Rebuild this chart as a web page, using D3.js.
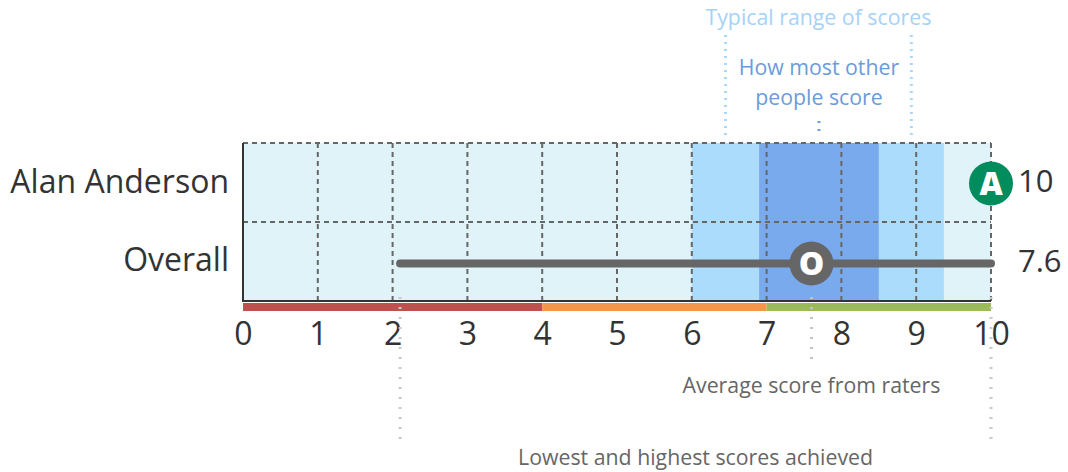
<!DOCTYPE html>
<html>
<head>
<meta charset="utf-8">
<script src="https://cdn.jsdelivr.net/npm/d3@7"></script>
<style>
  html, body { margin: 0; padding: 0; background: #fff; }
  svg { display: block; font-family: "Open Sans", "Noto Sans", sans-serif; }
</style>
</head>
<body>
<svg id="chart" width="1068" height="472"></svg>
<script>
// Rows of the score chart
const rows = ["Alan Anderson", "Overall"];
// Scores shown at the right of each row
const rowScores = [10, 7.6];
// Score axis ticks
const tickValues = [0, 1, 2, 3, 4, 5, 6, 7, 8, 9, 10];
// Typical range of scores (outer) and where most people score (inner)
const typicalRange = [6.0, 9.37];
const mostRange = [6.9, 8.5];
// Lowest and highest scores achieved
const overallRange = [2.1, 10];
// Coloured rating zones along the axis
const zones = [
  { from: 0, to: 4, color: "#c0504d" },
  { from: 4, to: 7, color: "#f79646" },
  { from: 7, to: 10, color: "#9bbb59" }
];

const svg = d3.select("#chart");
const x = d3.scaleLinear().domain([0, 10]).range([243, 991]);
const y = d3.scaleBand().domain(rows).range([143, 301]);
const mid = r => y(r) + y.bandwidth() / 2;

// background plot area
svg.append("rect")
  .attr("x", x(0)).attr("y", y.range()[0])
  .attr("width", x(10) - x(0)).attr("height", y.range()[1] - y.range()[0])
  .attr("fill", "#dff3f9");

// typical range bands
svg.append("rect")
  .attr("x", x(typicalRange[0])).attr("y", y.range()[0])
  .attr("width", x(typicalRange[1]) - x(typicalRange[0]))
  .attr("height", y.range()[1] - y.range()[0])
  .attr("fill", "#acdcfc");
svg.append("rect")
  .attr("x", x(mostRange[0])).attr("y", y.range()[0])
  .attr("width", x(mostRange[1]) - x(mostRange[0]))
  .attr("height", y.range()[1] - y.range()[0])
  .attr("fill", "#7aaaee");

// dashed grid
const grid = svg.append("g").attr("stroke", "#666").attr("stroke-width", 2)
  .attr("stroke-dasharray", "5,4").attr("fill", "none");
grid.selectAll("line.v").data(tickValues.filter(d => d > 0)).join("line")
  .attr("x1", d => x(d)).attr("x2", d => x(d))
  .attr("y1", y.range()[0]).attr("y2", y.range()[1]);
grid.selectAll("line.h").data(rows).join("line")
  .attr("x1", x(0)).attr("x2", x(10))
  .attr("y1", d => y(d)).attr("y2", d => y(d));

// solid axes
svg.append("line").attr("x1", x(0)).attr("x2", x(0))
  .attr("y1", y.range()[0]).attr("y2", y.range()[1] + 1)
  .attr("stroke", "#333").attr("stroke-width", 2);
svg.append("line").attr("x1", x(0) - 1).attr("x2", x(10))
  .attr("y1", y.range()[1]).attr("y2", y.range()[1])
  .attr("stroke", "#333").attr("stroke-width", 2);

// rating zones
svg.selectAll("rect.zone").data(zones).join("rect")
  .attr("x", d => x(d.from)).attr("y", 303)
  .attr("width", d => x(d.to) - x(d.from)).attr("height", 8)
  .attr("fill", d => d.color);

// axis labels
const axis = d3.axisBottom(x).tickValues(tickValues).tickSize(0).tickPadding(0);
const ax = svg.append("g").attr("transform", "translate(0,311)").call(axis);
ax.select(".domain").remove();
ax.selectAll("text").attr("font-size", 32).attr("fill", "#333")
  .attr("font-family", "'Open Sans', sans-serif").attr("dy", "1.06em");

// row labels
const rowBase = [193, 271];
svg.selectAll("text.row").data(rows).join("text")
  .attr("x", 229).attr("y", (d, i) => rowBase[i])
  .attr("text-anchor", "end").attr("font-size", 32).attr("fill", "#333")
  .text(d => d);

// annotation guides
const dotted = (x1, y1, y2, color, w, dash) => svg.append("line")
  .attr("x1", x1).attr("x2", x1).attr("y1", y1).attr("y2", y2)
  .attr("stroke", color).attr("stroke-width", w).attr("stroke-dasharray", dash);
const typMidL = (typicalRange[0] + mostRange[0]) / 2;
const typMidR = (mostRange[1] + typicalRange[1]) / 2;
const mostMid = (mostRange[0] + mostRange[1]) / 2;
dotted(x(typMidL), 35, 140, "#a8d8fb", 3, "2,5");
dotted(x(typMidR), 35, 140, "#a8d8fb", 3, "2,5");
dotted(x(mostMid), 121, 136, "#6f9fe0", 3, "2,6");
dotted(x(rowScores[1]), 297, 362, "#c4c4c4", 3, "2,8");
dotted(x(overallRange[0]), 297, 440, "#c8c8c8", 3, "2,8");
dotted(x(overallRange[1]), 297, 440, "#c8c8c8", 3, "2,8");

const ann = 21.3;
svg.append("text").attr("x", (x(typMidL) + x(typMidR)) / 2).attr("y", 25)
  .attr("text-anchor", "middle").attr("font-size", ann).attr("fill", "#a6d2f8")
  .text("Typical range of scores");
const mostLines = ["How most other", "people score"];
svg.selectAll("text.most").data(mostLines).join("text")
  .attr("x", x(mostMid)).attr("y", (d, i) => 75 + i * 29.5)
  .attr("text-anchor", "middle").attr("font-size", ann).attr("fill", "#6b9bdc")
  .text(d => d);
svg.append("text").attr("x", x(rowScores[1])).attr("y", 393)
  .attr("text-anchor", "middle").attr("font-size", ann).attr("fill", "#666")
  .text("Average score from raters");
svg.append("text").attr("x", (x(overallRange[0]) + x(overallRange[1])) / 2).attr("y", 465)
  .attr("text-anchor", "middle").attr("font-size", ann).attr("fill", "#666")
  .text("Lowest and highest scores achieved");

// overall range line
const oy = mid(rows[1]) + 2;
svg.append("line")
  .attr("x1", x(overallRange[0])).attr("x2", x(overallRange[1]))
  .attr("y1", oy).attr("y2", oy)
  .attr("stroke", "#666").attr("stroke-width", 8).attr("stroke-linecap", "round");

// markers
const markers = [
  { row: rows[0], value: rowScores[0], letter: "A", color: "#008c5c", dy: 1 },
  { row: rows[1], value: rowScores[1], letter: "O", color: "#666", dy: 2 }
];
const mk = svg.selectAll("g.mk").data(markers).join("g")
  .attr("transform", d => `translate(${x(d.value)},${mid(d.row) + d.dy})`);
mk.append("circle").attr("r", 22).attr("fill", d => d.color);
mk.append("text").attr("text-anchor", "middle").attr("dy", "0.36em")
  .attr("font-size", 32).attr("font-weight", 800).attr("fill", "#fff")
  .text(d => d.letter);

// row scores
const scoreBase = [192, 272];
svg.selectAll("text.score").data(rows).join("text")
  .attr("x", 1018).attr("y", (d, i) => scoreBase[i])
  .attr("font-size", 31).attr("fill", "#333")
  .text((d, i) => rowScores[i]);
</script>
</body>
</html>
